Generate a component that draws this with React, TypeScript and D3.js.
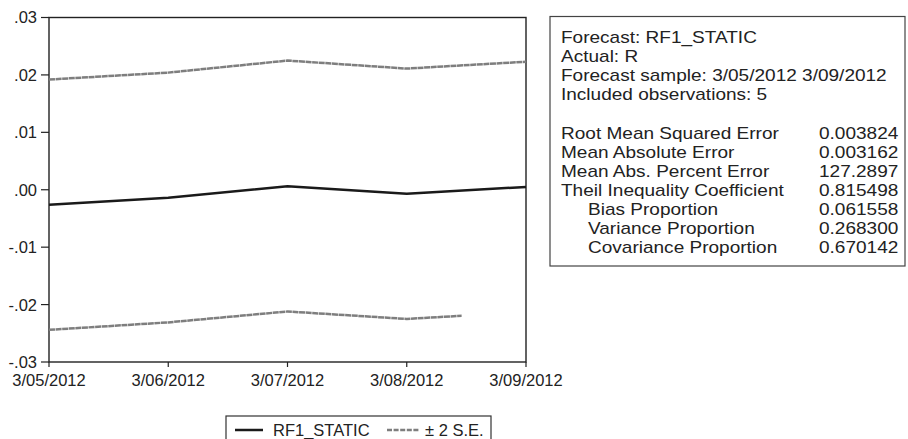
import React from "react";
import * as d3 from "d3";

const dates = ["3/05/2012", "3/06/2012", "3/07/2012", "3/08/2012", "3/09/2012"];
const forecast = [-0.0026, -0.0014, 0.0006, -0.0007, 0.0005];
const upperBand = [0.0192, 0.0204, 0.0225, 0.0211, 0.0223];
const lowerBand = [-0.0244, -0.0231, -0.0212, -0.0225, -0.0213];
// the lower band in the source stops part-way into the last interval (in index units)
const lowerVisibleUntil = 3.46;
const yTicks = [0.03, 0.02, 0.01, 0.0, -0.01, -0.02, -0.03];
const yTickLabels = [".03", ".02", ".01", ".00", "-.01", "-.02", "-.03"];

const headerLines = [
  "Forecast: RF1_STATIC",
  "Actual: R",
  "Forecast sample: 3/05/2012 3/09/2012",
  "Included observations: 5",
];
const statNames = [
  "Root Mean Squared Error",
  "Mean Absolute Error",
  "Mean Abs. Percent Error",
  "Theil Inequality Coefficient",
  "Bias Proportion",
  "Variance Proportion",
  "Covariance Proportion",
];
const statIndented = [false, false, false, false, true, true, true];
const statValues = ["0.003824", "0.003162", "127.2897", "0.815498", "0.061558", "0.268300", "0.670142"];

const legendLabels = ["RF1_STATIC", "± 2 S.E."];

export default function App() {
  const W = 908;
  const H = 439;
  const left = 49;
  const right = 526;
  const top = 17.5;
  const bottom = 362;
  const x = d3.scaleLinear().domain([0, dates.length - 1]).range([left, right]);
  const y = d3.scaleLinear().domain([-0.03, 0.03]).range([bottom, top]);
  const line = d3
    .line<number>()
    .x((_, i) => x(i))
    .y((d) => y(d));

  const font = "'Liberation Sans', Arial, Helvetica, sans-serif";
  const axisColor = "#222";
  const bandColor = "#7e7e7e";

  const boxL = 550, boxT = 16.5, boxR = 905, boxB = 266;
  const lh = 19.1;
  const y0 = 43;
  const fs = 17;
  const sx = 1.12;

  const boxText = (key: string, tx: number, ty: number, t: string) => (
    <text key={key} transform={`translate(${tx},${ty}) scale(${sx},1)`} fontSize={fs} fill="#222">
      {t}
    </text>
  );

  return (
    <svg
      width={W}
      height={H}
      style={{ position: "absolute", left: 0, top: 0, background: "#fff" }}
      fontFamily={font}
    >
      <defs>
        <clipPath id="lowerClip">
          <rect x={left - 2} y={top} width={x(lowerVisibleUntil) - left + 2} height={bottom - top} />
        </clipPath>
      </defs>
      <rect x={0} y={0} width={W} height={H} fill="#fff" />

      {/* plot frame */}
      <rect x={left} y={top} width={right - left} height={bottom - top} fill="none" stroke={axisColor} strokeWidth={1.4} />

      {/* y ticks */}
      {yTicks.map((t, i) => (
        <g key={"y" + i}>
          <line x1={left - 8} x2={left} y1={y(t)} y2={y(t)} stroke={axisColor} strokeWidth={1.2} />
          <text x={37} y={y(t)} dy="0.36em" textAnchor="end" fontSize={16.5} fill="#222">
            {yTickLabels[i]}
          </text>
        </g>
      ))}

      {/* x ticks */}
      {dates.map((d, i) => (
        <g key={"x" + i}>
          <line x1={x(i)} x2={x(i)} y1={bottom} y2={bottom + 5} stroke={axisColor} strokeWidth={1.2} />
          <text x={x(i)} y={386} textAnchor="middle" fontSize={16.5} fill="#222">
            {d}
          </text>
        </g>
      ))}

      {/* series */}
      <path d={line(upperBand) ?? ""} fill="none" stroke={bandColor} strokeWidth={2.5} strokeDasharray="6 0.6" />
      <path
        d={line(lowerBand) ?? ""}
        fill="none"
        stroke={bandColor}
        strokeWidth={2.5}
        strokeDasharray="6 0.6"
        clipPath="url(#lowerClip)"
      />
      <path d={line(forecast) ?? ""} fill="none" stroke="#1a1a1a" strokeWidth={2.5} />

      {/* statistics box */}
      <rect x={boxL} y={boxT} width={boxR - boxL} height={boxB - boxT} fill="#fff" stroke="#444" strokeWidth={1.2} />
      {headerLines.map((t, i) => boxText("h" + i, 561, y0 + i * lh, t))}
      {statNames.map((t, i) => (
        <g key={"s" + i}>
          {boxText("n" + i, statIndented[i] ? 588 : 561, y0 + (i + 5) * lh, t)}
          {boxText("v" + i, 819, y0 + (i + 5) * lh, statValues[i])}
        </g>
      ))}

      {/* legend */}
      <rect x={226} y={416} width={265} height={40} fill="#fff" stroke="#333" strokeWidth={1.2} />
      <line x1={235} x2={263} y1={430} y2={430} stroke="#1a1a1a" strokeWidth={2.5} />
      <text x={273} y={435.5} fontSize={16.5} fill="#222">
        {legendLabels[0]}
      </text>
      <line x1={387} x2={420} y1={430} y2={430} stroke={bandColor} strokeWidth={2.5} strokeDasharray="5 1.6" />
      <text x={425} y={435.5} fontSize={16.5} fill="#222">
        {legendLabels[1]}
      </text>
    </svg>
  );
}
